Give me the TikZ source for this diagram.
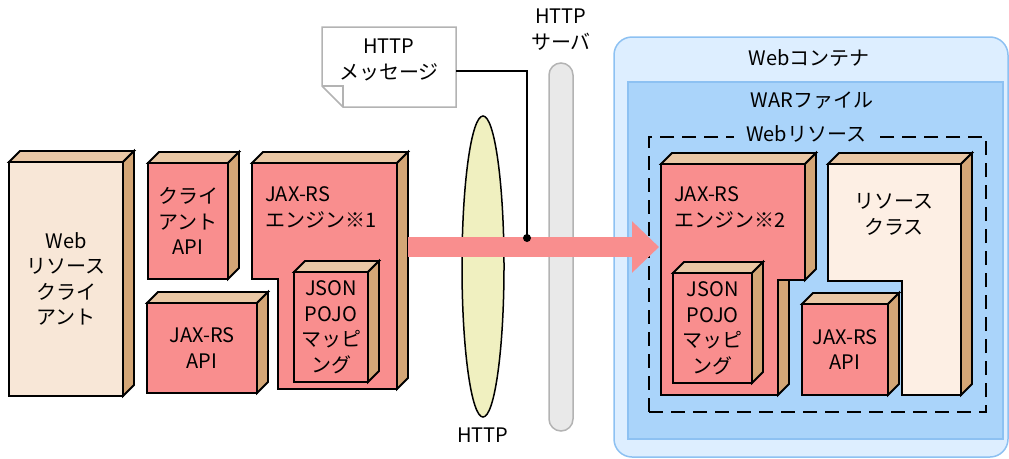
\documentclass[tikz,border=0pt]{standalone}
\usepackage{fontspec}
\setmainfont{Noto Sans CJK JP}
\usetikzlibrary{arrows.meta,shapes.geometric}
\definecolor{pinkf}{HTML}{F98E8E}
\definecolor{tant}{HTML}{E9C7A5}
\definecolor{tans}{HTML}{D4A676}
\definecolor{beige}{HTML}{F8E7D7}
\definecolor{cream}{HTML}{FDEFE4}
\definecolor{contf}{HTML}{DDEEFF}
\definecolor{contd}{HTML}{8DC1F2}
\definecolor{warf}{HTML}{AAD4FA}
\definecolor{ellf}{HTML}{F0F0C0}
\definecolor{pillf}{HTML}{E9E9E9}
\definecolor{pilld}{HTML}{B3B3B3}
\definecolor{arrowc}{HTML}{F98E8E}
\tikzset{
  outl/.style={draw=black,line width=1.8pt,line join=miter},
  front/.style={outl,rectangle,inner sep=0pt,outer sep=0pt,align=center},
  lbl/.style={font=\fontsize{20}{25.5}\selectfont,align=center,inner sep=0pt},
  topface/.style={outl,fill=tant},
  sideface/.style={outl,fill=tans},
}
\newcommand\mycube[7]{%
  \node[front,fill=#6,minimum width=#4,minimum height=#5,font=\fontsize{20}{25.5}\selectfont] (#1) at (#2,#3) {#7};
  \path[topface] (#1.north west) -- ++(11,-11) -- ++(#4,0) -- (#1.north east) -- cycle;
  \path[sideface] (#1.north east) -- ++(11,-11) -- ++(0,#5) -- (#1.south east) -- cycle;
}
\begin{document}
\begin{tikzpicture}[x=1pt,y=-1pt]
\useasboundingbox (0,0) rectangle (1009,458);

% ---- left side
\mycube{wrc}{66}{279}{114}{234}{beige}{Web\\リソース\\クライ\\アント}
\mycube{capi}{188}{221}{80}{116}{pinkf}{クライ\\アント\\API}
\mycube{japi1}{202}{348}{110}{90}{pinkf}{JAX-RS\\API}

% engine 1 (L-shape)
\path[topface] (252,163) -- (263,152) -- (408,152) -- (397,163) -- cycle;
\path[sideface] (397,163) -- (408,152) -- (408,378) -- (397,389) -- cycle;
\path[outl,fill=pinkf] (252,163) -- (397,163) -- (397,389) -- (278,389) -- (278,279) -- (252,279) -- cycle;
\node[lbl,align=left,anchor=west] (eng1) at (265,207.5) {JAX-RS\\エンジン※1};
\mycube{json1}{331}{327}{74}{110}{pinkf}{JSON\\POJO\\マッピ\\ング}

% ---- callout
\node[minimum width=134,minimum height=80,inner sep=0pt,outer sep=0pt] (msg) at (389,67) {};
\draw[pilld,line width=1.5pt,fill=white] (msg.north west) -- (msg.north east) -- (msg.south east) -- ([xshift=21pt]msg.south west) -- ([yshift=21pt]msg.south west) -- cycle;
\draw[pilld,line width=1.5pt] ([yshift=21pt]msg.south west) -- ([xshift=21pt,yshift=21pt]msg.south west) -- ([xshift=21pt]msg.south west);
\node[lbl] (msgt) at (389,60) {HTTP\\メッセージ};

% ---- HTTP ellipse and server
\node[ellipse,draw=black,line width=1.5pt,fill=ellf,minimum width=42,minimum height=301,inner sep=0pt] (http) at (483,266.5) {};
\node[lbl] (httpl) at (483,435) {HTTP};
\node[rectangle,rounded corners=12pt,draw=pilld,line width=1.5pt,fill=pillf,minimum width=24,minimum height=368,inner sep=0pt] (srv) at (561,247) {};
\node[lbl] (srvl) at (561,29.5) {HTTP\\サーバ};

% ---- container
\node[rectangle,rounded corners=18pt,draw=contd,line width=1.5pt,fill=contf,minimum width=394,minimum height=420,inner sep=0pt] (cont) at (811,247) {};
\node[lbl] (contl) at (809,58) {Webコンテナ};
\node[rectangle,draw=contd,line width=1.5pt,fill=warf,minimum width=375,minimum height=357,inner sep=0pt] (war) at (815.5,260.5) {};
\node[lbl] (warl) at (812,100) {WARファイル};
\node[rectangle,draw=black,line width=1.8pt,dash pattern=on 14pt off 8pt,minimum width=337,minimum height=275,inner sep=0pt] (res) at (817.5,274.5) {};
\node[lbl,fill=warf,inner xsep=12pt] (resl) at (806,134) {Webリソース};

% engine 2 (L-shape)
\path[topface] (661,164) -- (672,153) -- (816,153) -- (805,164) -- cycle;
\path[sideface] (805,164) -- (816,153) -- (816,269) -- (805,280) -- cycle;
\path[sideface] (778,280) -- (789,280) -- (789,384) -- (778,395) -- cycle;
\path[outl,fill=pinkf] (661,164) -- (805,164) -- (805,280) -- (778,280) -- (778,395) -- (661,395) -- cycle;
\node[lbl,align=left,anchor=west] (eng2) at (674,207.5) {JAX-RS\\エンジン※2};
\mycube{json2}{712.5}{328}{79}{110}{pinkf}{JSON\\POJO\\マッピ\\ング}

% resource class (L-shape)
\path[topface] (828,164) -- (839,153) -- (972,153) -- (961,164) -- cycle;
\path[sideface] (961,164) -- (972,153) -- (972,384) -- (961,395) -- cycle;
\path[outl,fill=cream] (828,164) -- (961,164) -- (961,395) -- (902,395) -- (902,281) -- (828,281) -- cycle;
\node[lbl] (rcl) at (894,214.5) {リソース\\クラス};
\mycube{japi2}{845}{349.5}{86}{91}{pinkf}{JAX-RS\\API}

% ---- big arrow
\coordinate (arrS) at (408,247);
\coordinate (arrE) at (659,247);
\draw[arrowc,line width=20pt,-{Triangle[length=27pt,width=50pt]}] (arrS) -- (arrE);

% ---- callout connector
\coordinate (dot) at (527,238);
\draw[black,line width=1.5pt] ([yshift=-4pt]msg.east) -| (dot);
\fill[black] (dot) circle (4);
\end{tikzpicture}
\end{document}
